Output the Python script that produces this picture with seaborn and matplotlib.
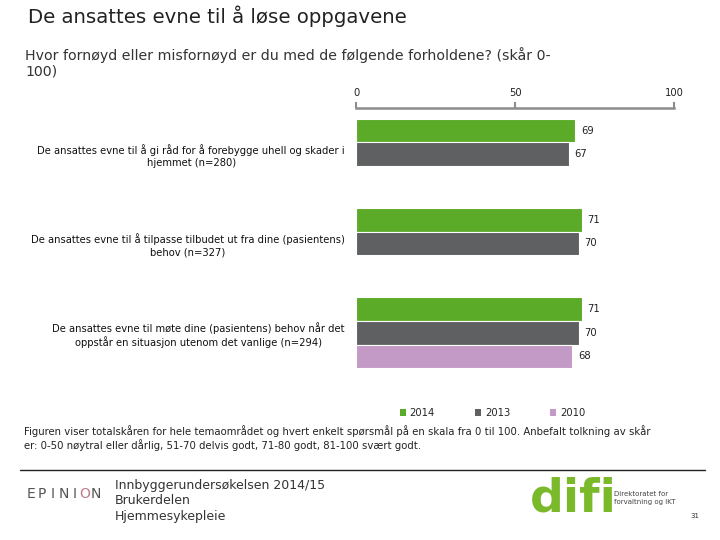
import matplotlib
matplotlib.use("Agg")
import matplotlib.pyplot as plt
import seaborn as sns
import pandas as pd
import numpy as np
from matplotlib.patches import Patch

# ---- data ----
categories = [
    "De ansattes evne til å gi råd for å forebygge uhell og skader i\nhjemmet (n=280)",
    "De ansattes evne til å tilpasse tilbudet ut fra dine (pasientens)\nbehov (n=327)",
    "De ansattes evne til møte dine (pasientens) behov når det\noppstår en situasjon utenom det vanlige (n=294)",
]
years = ["2014", "2013", "2010"]
values_2014 = [69, 71, 71]
values_2013 = [67, 70, 70]
values_2010 = [None, None, 68]
xticks = [0, 50, 100]
colors = ["#5BAA28", "#5F6062", "#C39AC6"]

rows = []
for yr, vals in zip(years, [values_2014, values_2013, values_2010]):
    for c, v in zip(categories, vals):
        if v is not None:
            rows.append({"category": c, "year": yr, "value": v})
df = pd.DataFrame(rows)

sns.set_theme(style="white")
plt.rcParams["font.family"] = ["DejaVu Sans"]

fig = plt.figure(figsize=(7.2, 5.4), dpi=100)
ax = fig.add_axes([356 / 720, 1 - 379 / 540, 318 / 720, (379 - 108) / 540])

sns.barplot(data=df, y="category", x="value", hue="year", order=categories,
            hue_order=years, palette=colors, saturation=1, orient="h", width=0.8,
            edgecolor="white", linewidth=0.8, ax=ax, legend=False)

for cont in ax.containers:
    ax.bar_label(cont, fmt="%d", padding=4, fontsize=7.2, color="#222222")

ax.set_xlim(0, 100)
ax.set_ylim(2.52, -0.52)
ax.set_xticks(xticks)
ax.xaxis.tick_top()
ax.tick_params(axis="x", direction="out", length=4, width=1.5, color="#8c8c8c",
               labelsize=7.2, labelcolor="#222222", pad=3)
ax.tick_params(axis="y", length=0, labelsize=7.2, labelcolor="#111111", pad=8)
for lbl in ax.get_yticklabels():
    lbl.set_multialignment("center")
ax.set_xlabel("")
ax.set_ylabel("")
for s in ["right", "bottom", "left"]:
    ax.spines[s].set_visible(False)
ax.spines["top"].set_color("#8c8c8c")
ax.spines["top"].set_linewidth(1.8)
ax.grid(False)

# legend
handles = [Patch(facecolor=c, edgecolor="none") for c in colors]
fig.legend(handles, years, loc="center", bbox_to_anchor=(0.684, 1 - 413 / 540),
           ncol=3, frameon=False, fontsize=7.2, handlelength=0.6, handleheight=0.6,
           columnspacing=4.0, handletextpad=0.4)

# titles
fig.text(28 / 720, 1 - 16 / 540, "De ansattes evne til å løse oppgavene",
         fontsize=14.2, color="#222222", va="center", ha="left")
fig.text(25 / 720, 1 - 63 / 540,
         "Hvor fornøyd eller misfornøyd er du med de følgende forholdene? (skår 0-\n100)",
         fontsize=10.2, color="#333333", va="center", ha="left", linespacing=1.15)

# footnote
fig.text(24 / 720, 1 - 438 / 540,
         "Figuren viser totalskåren for hele temaområdet og hvert enkelt spørsmål på en skala fra 0 til 100. Anbefalt tolkning av skår\n"
         "er: 0-50 nøytral eller dårlig, 51-70 delvis godt, 71-80 godt, 81-100 svært godt.",
         fontsize=7.3, color="#222222", va="center", ha="left", linespacing=1.25)

# separator line
fig.add_artist(plt.Line2D([20 / 720, 705 / 720], [1 - 470 / 540, 1 - 470 / 540],
                          color="#222222", linewidth=1.0))

# footer
for i, ch in enumerate("EPINION"):
    fig.text((31 + i * 10.8) / 720, 1 - 494 / 540, ch, fontsize=10,
             color="#C07A8A" if i == 5 else "#555555", va="center", ha="center")
fig.text(115 / 720, 1 - 501 / 540, "Innbyggerundersøkelsen 2014/15\nBrukerdelen\nHjemmesykepleie",
         fontsize=9, color="#333333", va="center", ha="left", linespacing=1.25)
fig.text(573 / 720, 1 - 499 / 540, "difi", fontsize=34, fontweight="bold",
         color="#7AB929", va="center", ha="center")
fig.text(614 / 720, 1 - 498 / 540, "Direktoratet for\nforvaltning og IKT",
         fontsize=5, color="#444444", va="center", ha="left", linespacing=1.4)
fig.text(690 / 720, 1 - 516 / 540, "31", fontsize=5, color="#333333",
         va="center", ha="left")

fig.savefig("out.png", dpi=100)
